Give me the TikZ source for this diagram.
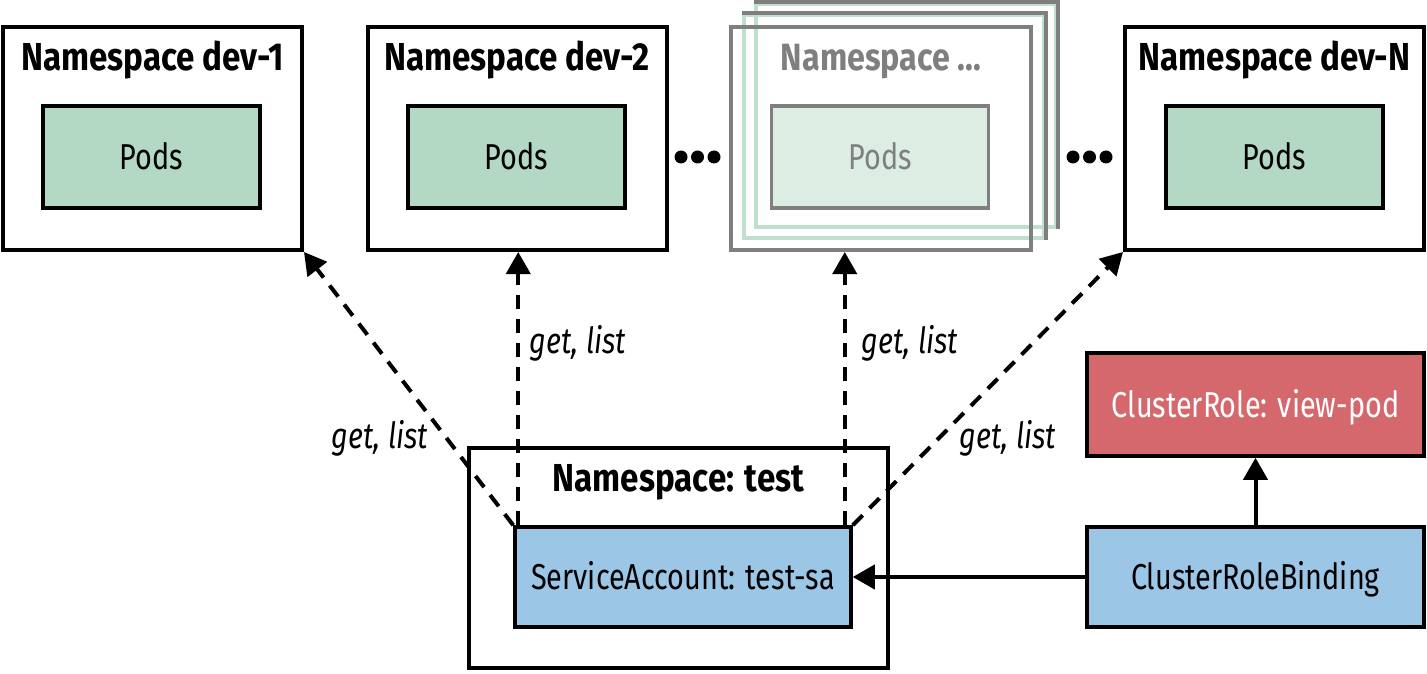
\documentclass[tikz,border=0pt]{standalone}
\usepackage{fontspec}
\setmainfont{Fira Sans}[FakeStretch=0.8,BoldFeatures={FakeStretch=0.85}]
\usetikzlibrary{arrows.meta,calc}
\definecolor{podgreen}{HTML}{B3D9C4}
\definecolor{podfade}{HTML}{DCEDE4}
\definecolor{fadegreen}{HTML}{BFE0CE}
\definecolor{fadegrey}{HTML}{7F7F7F}
\definecolor{sablue}{HTML}{9CC6E6}
\definecolor{crred}{HTML}{D4686C}
\begin{document}
\begin{tikzpicture}[x=1pt,y=-1pt,
  nsbox/.style={draw=black,line width=4pt,fill=white,minimum width=299pt,minimum height=223pt,inner sep=0pt},
  fadebox/.style={draw=fadegreen,line width=4pt,minimum width=300pt,minimum height=223pt,inner sep=0pt},
  fadeedge/.style={draw=fadegrey,line width=4pt},
  title/.style={font=\bfseries\fontsize{39}{44}\selectfont,anchor=base,inner sep=0pt},
  inbox/.style={draw=black,line width=3.5pt,inner sep=0pt,text height=25pt,text depth=0pt,font=\fontsize{36}{40}\selectfont},
  podbox/.style={inbox,fill=podgreen,minimum width=217pt,minimum height=102pt},
  lbl/.style={font=\itshape\fontsize{36}{40}\selectfont,anchor=base,inner sep=0pt},
  dashline/.style={line width=4pt,dash pattern=on 14pt off 10pt,-{Triangle[length=22pt,width=24pt]}},
  solidline/.style={line width=4pt,-{Triangle[length=22pt,width=24pt]}},
  dot/.style={circle,fill=black,inner sep=0pt,minimum size=13pt}
]
\useasboundingbox (0,0) rectangle (1427,674);
% namespaces at top
\node[nsbox] (ns1) at (152.5,138.5) {};
\node[title] (t1) at ([yshift=-46pt]ns1.north) {Namespace dev-1};
\node[podbox] (p1) at (151.5,157) {Pods};

\node[nsbox] (ns2) at (517,138.5) {};
\node[title] (t2) at ([yshift=-46pt]ns2.north) {Namespace dev-2};
\node[podbox] (p2) at (516.5,157) {Pods};

\node[dot] (d1) at (681,157) {};
\node[dot] (d2) at (697.5,157) {};
\node[dot] (d3) at (714,157) {};

% stacked faded namespaces
\node[fadebox] (nsb) at (756+150,4+111.5) {};
\draw[fadeedge] (nsb.north west) -- (nsb.north east) -- (nsb.south east);
\node[fadebox] (nsm) at (744+150,15+111.5) {};
\draw[fadeedge] (nsm.north west) -- (nsm.north east) -- (nsm.south east);
\node[draw=fadegrey,line width=4pt,minimum width=300pt,minimum height=223pt,inner sep=0pt] (ns3) at (881,138.5) {};
\node[title,text=fadegrey,font=\bfseries\fontsize{38}{44}\selectfont] (t3) at ([yshift=-46pt]ns3.north) {Namespace ...};
\node[inbox,draw=fadegrey,fill=podfade,text=fadegrey,minimum width=217pt,minimum height=102pt] (p3) at (880,157) {Pods};

\node[dot] (d4) at (1073,157) {};
\node[dot] (d5) at (1089.5,157) {};
\node[dot] (d6) at (1106,157) {};

\node[nsbox] (nsN) at (1274.5,138.5) {};
\node[title] (tN) at ([yshift=-46pt]nsN.north) {Namespace dev-N};
\node[podbox] (pN) at (1274.5,157) {Pods};

% namespace test
\node[nsbox,minimum width=419pt,minimum height=220pt] (nst) at (678.5,558) {};
\node[title] (tt) at ([yshift=-45pt]nst.north) {Namespace: test};
\node[inbox,fill=sablue,minimum width=336pt,minimum height=100pt] (sa) at (683,577) {ServiceAccount: test-sa};

% cluster role objects
\node[inbox,fill=crred,text=white,minimum width=337pt,minimum height=103pt] (cr) at (1255.5,404.5) {ClusterRole: view-pod};
\node[inbox,fill=sablue,minimum width=337pt,minimum height=100pt] (crb) at (1255.5,577) {ClusterRoleBinding};

% connectors
\draw[solidline] (crb.west) -- (sa.east);
\draw[solidline] (crb.north) -- (cr.south);

\coordinate (s2) at ([xshift=5pt]sa.north west);
\coordinate (s3) at ([xshift=-8pt]sa.north east);
\draw[dashline] (sa.north west) -- (ns1.south east);
\draw[dashline] (s2) -- (s2 |- ns2.south);
\draw[dashline] (s3) -- (s3 |- ns3.south);
\draw[dashline] (sa.north east) -- (nsN.south west);

\node[lbl] (l1) at (380,448) {get, list};
\node[lbl] (l2) at (578,353) {get, list};
\node[lbl] (l3) at (910,353) {get, list};
\node[lbl] (l4) at (1008,448) {get, list};
\end{tikzpicture}
\end{document}
